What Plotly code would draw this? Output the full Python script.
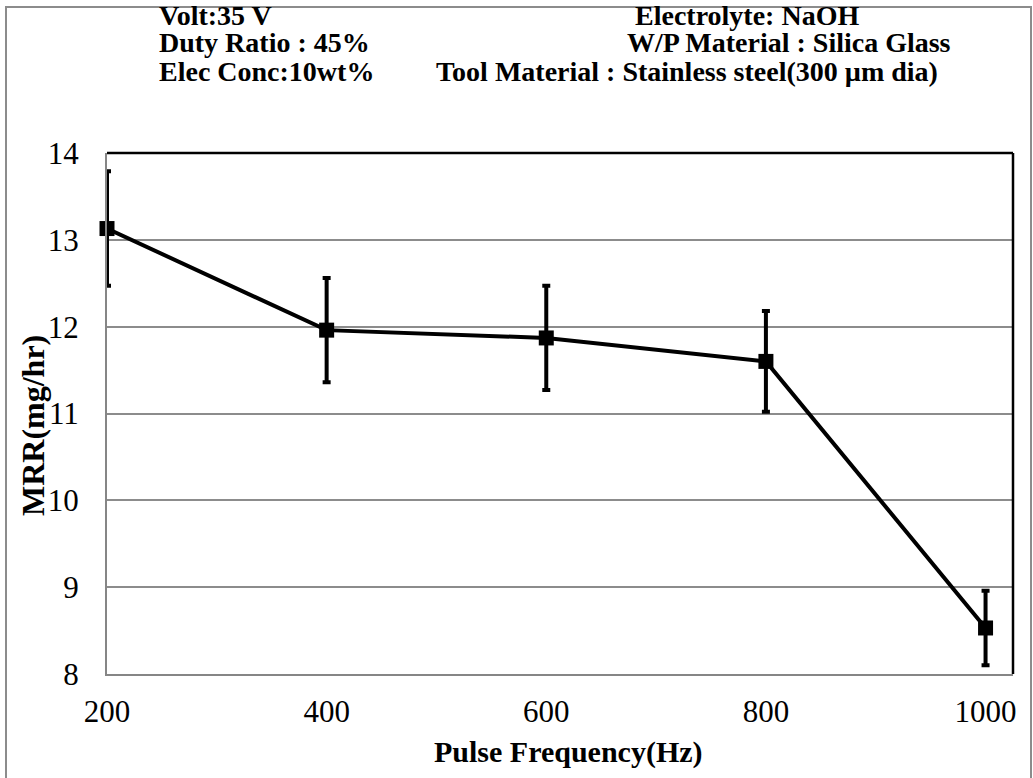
import plotly.graph_objects as go

freq = [200, 400, 600, 800, 1000]
mrr = [13.13, 11.96, 11.87, 11.60, 8.53]
err = [0.66, 0.60, 0.60, 0.58, 0.43]

x_ticks = [200, 400, 600, 800, 1000]
y_ticks = [8, 9, 10, 11, 12, 13, 14]

W, H = 1033, 778
ml, mr, mt, mb = 107, 20, 153, 104
pw, ph = W - ml - mr, H - mt - mb

def px(x):
    return (x - ml) / pw

def py(y):
    return (H - mb - y) / ph

fig = go.Figure()
fig.add_trace(go.Scatter(
    x=freq, y=mrr, mode="lines+markers",
    line=dict(color="black", width=4),
    marker=dict(symbol="square", size=15, color="black"),
    error_y=dict(type="data", array=err, visible=True, color="black", thickness=4, width=4),
    cliponaxis=False, showlegend=False,
))

font_family = "Liberation Serif"

fig.update_layout(
    width=W, height=H,
    margin=dict(l=ml, r=mr, t=mt, b=mb),
    paper_bgcolor="white", plot_bgcolor="white",
    font=dict(family=font_family, color="black"),
    xaxis=dict(
        range=[200, 1025], tickvals=x_ticks, ticktext=[str(v) for v in x_ticks],
        showgrid=False, zeroline=False, showline=True, linecolor="#868686", linewidth=2,
        ticks="", tickfont=dict(size=31, family=font_family), ticklabelstandoff=9,
    ),
    yaxis=dict(
        range=[8, 14], tickvals=y_ticks, ticktext=[str(v) for v in y_ticks],
        showgrid=True, gridcolor="#8c8c8c", gridwidth=1.5, zeroline=False,
        showline=True, linecolor="#868686", linewidth=2,
        ticks="", tickfont=dict(size=31, family=font_family), ticklabelstandoff=20,
    ),
)

# axis titles
fig.add_annotation(text="<b>Pulse Frequency(Hz)</b>", xref="paper", yref="paper",
                   x=px(568), y=py(752), xanchor="center", yanchor="middle",
                   showarrow=False, font=dict(size=30, family=font_family, color="black"))
fig.add_annotation(text="<b>MRR(mg/hr)</b>", xref="paper", yref="paper",
                   x=px(33), y=py(426), xanchor="center", yanchor="middle", textangle=-90,
                   showarrow=False, font=dict(size=32, family=font_family, color="black"))

# top and right black border of the plot area
fig.add_shape(type="line", xref="paper", yref="paper", x0=0, x1=1, y0=1, y1=1,
              line=dict(color="black", width=2.5))
fig.add_shape(type="line", xref="paper", yref="paper", x0=1, x1=1, y0=0, y1=1,
              line=dict(color="black", width=2.5))
# outer chart border
fig.add_shape(type="rect", xref="paper", yref="paper",
              x0=px(6), x1=px(1031), y0=py(7), y1=py(790),
              line=dict(color="#8c8c8c", width=2), layer="below")

notes = [
    ("Volt:35 V", 157, 15),
    ("Duty Ratio : 45%", 157, 43),
    ("Elec Conc:10wt%", 157, 71),
    ("Electrolyte: NaOH", 633, 15),
    ("W/P Material : Silica Glass", 625, 43),
    ("Tool Material : Stainless steel(300 µm dia)", 434, 71),
]
for txt, x, y in notes:
    fig.add_annotation(text="<b>" + txt + "</b>", xref="paper", yref="paper",
                       x=px(x), y=py(y), xanchor="left", yanchor="middle",
                       showarrow=False, font=dict(size=28, family=font_family, color="black"))

fig.write_html("out.html")
